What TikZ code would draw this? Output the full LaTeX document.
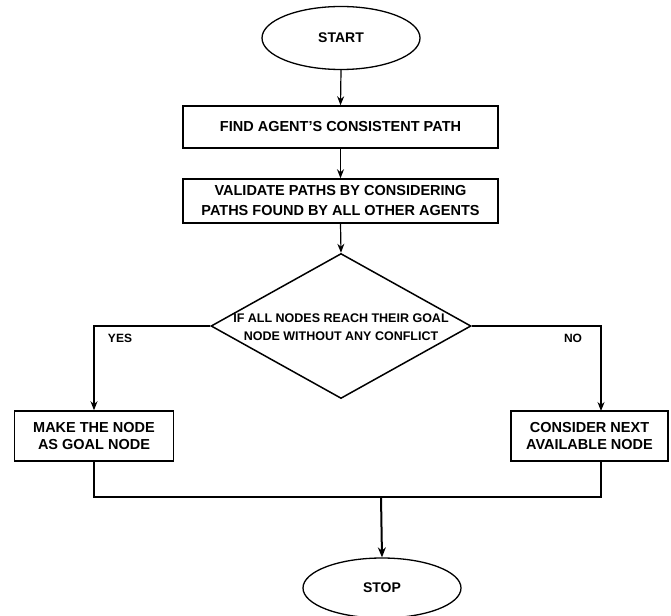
\documentclass[tikz,border=0pt]{standalone}
\usepackage{fontspec}
\setmainfont{Liberation Sans}
\usetikzlibrary{shapes.geometric,arrows.meta}
\begin{document}
\begin{tikzpicture}[x=1pt,y=-1pt,
  box/.style={draw,line width=1.5pt,rectangle,inner sep=0pt,align=center,font=\fontsize{14.5}{20}\bfseries},
  term/.style={draw,line width=1.3pt,ellipse,inner sep=0pt,minimum width=158pt,font=\fontsize{14}{17}\bfseries},
  arr/.style={line width=1.2pt,-{Stealth[length=9pt,width=7pt]}},
  barr/.style={line width=2pt,-{Stealth[length=10pt,width=8pt]}},
  ln/.style={line width=1.5pt},
  lbl/.style={font=\fontsize{12}{14}\bfseries,inner sep=0pt}]
\clip (0,0) rectangle (671,615);
\node[term,minimum height=63pt] (start) at (341,38) {START};
\node[box,minimum width=315pt,minimum height=42pt] (b1) at (340.5,127) {FIND AGENT'S CONSISTENT PATH};
\node[box,minimum width=315pt,minimum height=44pt] (b2) at (340.5,201) {VALIDATE PATHS BY CONSIDERING\\PATHS FOUND BY ALL OTHER AGENTS};
\node[draw,line width=1.5pt,diamond,minimum width=260pt,minimum height=145pt,inner sep=0pt] (dia) at (341,326) {};
\node[align=center,inner sep=0pt,font=\fontsize{12.5}{18}\bfseries] (diatext) at (341,327) {IF ALL NODES REACH THEIR GOAL\\NODE WITHOUT ANY CONFLICT};
\node[box,minimum width=159pt,minimum height=50pt,font=\fontsize{14.5}{17.5}\bfseries] (lb) at (94,436) {MAKE THE NODE\\AS GOAL NODE};
\node[box,minimum width=157pt,minimum height=50pt,font=\fontsize{14.5}{17.5}\bfseries] (rb) at (589.5,436) {CONSIDER NEXT\\AVAILABLE NODE};
\node[term,minimum height=60pt] (stop) at (382,588) {STOP};
\node[lbl] (yes) at (120,338) {YES};
\node[lbl] (no) at (573,338) {NO};
\coordinate (rbin) at (601,411);
\coordinate (rbout) at (601,461);
\coordinate (join) at (381,497);
\draw[arr] (start.south) -- (b1.north);
\draw[arr] (b1.south) -- (b2.north);
\draw[arr] (b2.south) -- (dia.north);
\draw[arr] (dia.west) -| (lb.north);
\draw[arr] (dia.east) -| (rbin);
\draw[ln] (lb.south) |- (join) -| (rbout);
\draw[barr] (join) -- (stop.north);
\end{tikzpicture}
\end{document}
